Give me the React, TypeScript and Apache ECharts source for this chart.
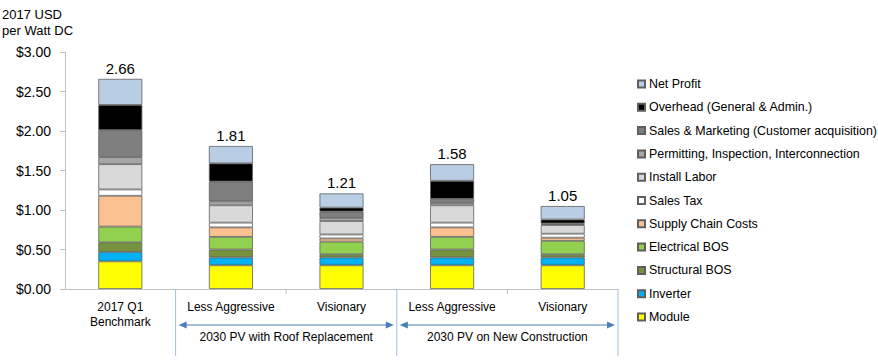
import React, { useEffect, useRef } from "react";
import * as echarts from "echarts";

const categories = ["2017 Q1\nBenchmark", "Less Aggressive", "Visionary", "Less Aggressive", "Visionary"];
const groupLabels = ["2030 PV with Roof Replacement", "2030 PV on New Construction"];
const totals = [2.66, 1.81, 1.21, 1.58, 1.05];

const module_ = [0.35, 0.3, 0.3, 0.3, 0.3];
const inverter = [0.12, 0.1, 0.1, 0.1, 0.1];
const structuralBOS = [0.12, 0.1, 0.04, 0.1, 0.04];
const electricalBOS = [0.2, 0.16, 0.16, 0.16, 0.17];
const supplyChain = [0.39, 0.12, 0.04, 0.12, 0.04];
const salesTax = [0.08, 0.06, 0.05, 0.06, 0.05];
const installLabor = [0.32, 0.22, 0.17, 0.22, 0.11];
const permitting = [0.09, 0.05, 0.04, 0.03, 0.01];
const salesMarketing = [0.34, 0.25, 0.08, 0.05, 0.01];
const overhead = [0.32, 0.23, 0.05, 0.23, 0.05];
const netProfit = [0.33, 0.22, 0.18, 0.21, 0.17];

const yTicks = [0, 0.5, 1, 1.5, 2, 2.5, 3];

const seriesDefs = [
  { name: "Module", data: module_, color: "#FFFF00" },
  { name: "Inverter", data: inverter, color: "#00B0F0" },
  { name: "Structural BOS", data: structuralBOS, color: "#76923C" },
  { name: "Electrical BOS", data: electricalBOS, color: "#92D050" },
  { name: "Supply Chain Costs", data: supplyChain, color: "#FAC090" },
  { name: "Sales Tax", data: salesTax, color: "#FFFFFF" },
  { name: "Install Labor", data: installLabor, color: "#D9D9D9" },
  { name: "Permitting, Inspection, Interconnection", data: permitting, color: "#A6A6A6" },
  { name: "Sales & Marketing (Customer acquisition)", data: salesMarketing, color: "#7F7F7F" },
  { name: "Overhead (General & Admin.)", data: overhead, color: "#000000" },
  { name: "Net Profit", data: netProfit, color: "#B9CDE5" },
];

const FONT = "'Liberation Sans', Arial, sans-serif";
const W = 878;
const H = 360;
const GRID_LEFT = 65;
const GRID_RIGHT = 260;
const GRID_TOP = 52;
const GRID_BOTTOM = 71;

export default function App() {
  const ref = useRef<HTMLDivElement>(null);

  useEffect(() => {
    document.body.style.margin = "0";
    if (!ref.current) return;
    const chart = echarts.init(ref.current, null, { renderer: "svg" });

    const plotRight = W - GRID_RIGHT;
    const catW = (plotRight - GRID_LEFT) / categories.length;
    const bx = (i: number) => GRID_LEFT + i * catW;
    const axisY = H - GRID_BOTTOM;
    const arrowY = 325;
    const sepColor = "#9DBEE3";
    const arrowColor = "#4A7EBB";

    const graphics: any[] = [
      {
        type: "text",
        left: 2,
        top: 6,
        style: { text: "2017 USD\nper Watt DC", font: `13px ${FONT}`, fill: "#000", lineHeight: 16 },
      },
    ];
    [1, 3, 5].forEach((i) => {
      graphics.push({
        type: "line",
        shape: { x1: bx(i), y1: axisY, x2: bx(i), y2: 356 },
        style: { stroke: sepColor, lineWidth: 1 },
      });
    });
    [2, 4].forEach((i) => {
      graphics.push({
        type: "line",
        shape: { x1: bx(i), y1: axisY, x2: bx(i), y2: axisY + 5 },
        style: { stroke: "#BFBFBF", lineWidth: 1 },
      });
    });
    [[1, 3], [3, 5]].forEach(([a, b], gi) => {
      const x1 = bx(a) + 3;
      const x2 = bx(b) - 3;
      graphics.push({
        type: "line",
        shape: { x1: x1 + 6, y1: arrowY, x2: x2 - 6, y2: arrowY },
        style: { stroke: arrowColor, lineWidth: 1.2 },
      });
      graphics.push({
        type: "polygon",
        shape: { points: [[x1, arrowY], [x1 + 8, arrowY - 3.5], [x1 + 8, arrowY + 3.5]] },
        style: { fill: arrowColor },
      });
      graphics.push({
        type: "polygon",
        shape: { points: [[x2, arrowY], [x2 - 8, arrowY - 3.5], [x2 - 8, arrowY + 3.5]] },
        style: { fill: arrowColor },
      });
      graphics.push({
        type: "text",
        x: (bx(a) + bx(b)) / 2,
        y: 337,
        style: {
          text: groupLabels[gi],
          font: `12px ${FONT}`,
          fill: "#000",
          align: "center",
          verticalAlign: "middle",
        },
      });
    });

    const series = seriesDefs.map((s, idx) => ({
      name: s.name,
      type: "bar",
      stack: "total",
      barWidth: 44,
      data: s.data,
      itemStyle: { color: s.color, borderColor: "#5F5F5F", borderWidth: 0.8 },
      emphasis: { disabled: true },
      label:
        idx === seriesDefs.length - 1
          ? {
              show: true,
              position: "top",
              distance: 3,
              formatter: (p: any) => totals[p.dataIndex].toFixed(2),
              fontFamily: FONT,
              fontSize: 15,
              color: "#000",
            }
          : { show: false },
    }));

    chart.setOption({
      animation: false,
      textStyle: { fontFamily: FONT },
      grid: { left: GRID_LEFT, right: GRID_RIGHT, top: GRID_TOP, bottom: GRID_BOTTOM },
      legend: {
        orient: "vertical",
        left: 632,
        top: 73,
        icon: "rect",
        itemWidth: 7,
        itemHeight: 7,
        itemGap: 11.3,
        data: seriesDefs.map((s) => s.name).reverse(),
        textStyle: { fontFamily: FONT, fontSize: 12.4, color: "#000", padding: [0, 0, 0, -1] },
        selectedMode: false,
      },
      xAxis: {
        type: "category",
        data: categories,
        axisLine: { lineStyle: { color: "#BFBFBF" } },
        axisTick: { show: false },
        axisLabel: {
          interval: 0,
          margin: 10,
          fontFamily: FONT,
          fontSize: 12,
          color: "#000",
          lineHeight: 15,
        },
      },
      yAxis: {
        type: "value",
        min: yTicks[0],
        max: yTicks[yTicks.length - 1],
        interval: 0.5,
        splitLine: { show: false },
        axisLine: { show: true, lineStyle: { color: "#BFBFBF" } },
        axisTick: { show: true, inside: false, length: 5, lineStyle: { color: "#BFBFBF" } },
        axisLabel: {
          margin: 14,
          fontFamily: FONT,
          fontSize: 14,
          color: "#000",
          formatter: (v: number) => "$" + v.toFixed(2),
        },
      },
      graphic: graphics,
      series,
    });

    return () => chart.dispose();
  }, []);

  return <div ref={ref} style={{ width: W, height: H }} />;
}
